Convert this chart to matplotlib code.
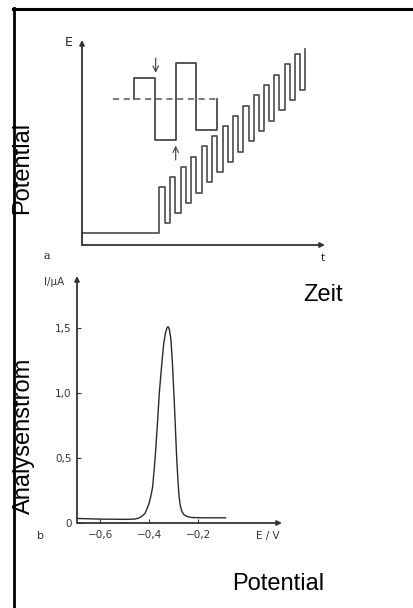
import matplotlib.pyplot as plt
from matplotlib.lines import Line2D

W, H = 413, 608

# a: staircase potential with superimposed square-wave pulses
base_level = 12
rise_t = [77, 88, 98.5, 108.5, 119.5, 130, 140.5, 150.5, 161, 171.5, 182, 192, 202.5, 212.5, 222.5]
fall_t = [83, 93, 103.5, 114, 124.5, 135, 145.5, 156, 166.5, 176.5, 187, 197, 207.5, 217.5]
tops = [58, 68, 78.5, 88.5, 99, 109.5, 119.5, 129.5, 139.5, 150, 160, 170.5, 181, 191, 196]
bottoms = [22, 32, 42, 52.5, 63, 73.5, 83.5, 93.5, 104, 114.5, 124.5, 135, 145, 155]

# enlarged single pulse pair
pulse_t = [52, 73, 93.7, 114, 135.3]
pulse_E = [145.7, 166.7, 104.7, 181.7, 115, 145.7]
dash_t = [31.3, 134.7]

# b: square-wave voltammogram
E_pot = [-0.694, -0.60, -0.50, -0.46, -0.445, -0.435, -0.425, -0.416, -0.408, -0.40,
         -0.392, -0.385, -0.375, -0.366, -0.358, -0.348, -0.340, -0.333, -0.327, -0.322,
         -0.317, -0.311, -0.305, -0.298, -0.292, -0.287, -0.281, -0.277, -0.272, -0.266,
         -0.258, -0.245, -0.225, -0.18, -0.13, -0.088]
I_cur = [0.035, 0.030, 0.028, 0.030, 0.036, 0.045, 0.058, 0.075, 0.11, 0.15,
         0.21, 0.28, 0.50, 0.75, 1.00, 1.22, 1.38, 1.46, 1.50, 1.51,
         1.49, 1.42, 1.25, 0.98, 0.72, 0.50, 0.30, 0.20, 0.13, 0.09,
         0.065, 0.050, 0.042, 0.040, 0.040, 0.040]
x_ticks = [-0.6, -0.4, -0.2]
x_labels = ['\u22120,6', '\u22120,4', '\u22120,2']
y_ticks = [0, 0.5, 1.0, 1.5]
y_labels = ['0', '0,5', '1,0', '1,5']


def box(left, top, right, bottom):
    return [left / W, 1 - bottom / H, (right - left) / W, (bottom - top) / H]


def fx(x):
    return x / W


def fy(y):
    return 1 - y / H


fig = plt.figure(figsize=(W / 100, H / 100), dpi=100)

axc = '#333333'
lc = '#3a3a3a'

# ---- panel a ----
ax1 = fig.add_axes(box(82, 35, 332, 245))
ax1.set_xlim(0, 250)
ax1.set_ylim(0, 210)
ax1.axis('off')

st_x = [0, rise_t[0]]
st_y = [base_level, base_level]
for i in range(len(fall_t)):
    st_x += [rise_t[i], fall_t[i], fall_t[i]]
    st_y += [tops[i], tops[i], bottoms[i]]
    st_x.append(rise_t[i + 1])
    st_y.append(bottoms[i])
st_x.append(rise_t[-1])
st_y.append(tops[-1])
ax1.plot(st_x, st_y, color='#4a4a4a', lw=1.2, clip_on=False)

px, py = [pulse_t[0]], [pulse_E[0]]
for i, t in enumerate(pulse_t):
    if i > 0:
        px.append(t)
        py.append(pulse_E[i])
    px.append(t)
    py.append(pulse_E[i + 1])
    if i + 1 < len(pulse_t):
        px.append(pulse_t[i + 1])
        py.append(pulse_E[i + 1])
ax1.plot(px, py, color=lc, lw=1.2)
ax1.plot(dash_t, [pulse_E[0], pulse_E[0]], color='#555555', lw=1.1, ls=(0, (4, 3)))

ax1.annotate('', xy=(73.7, 172.3), xytext=(73.7, 187),
             arrowprops=dict(arrowstyle='->', color=lc, lw=0.8, mutation_scale=10,
                             shrinkA=0, shrinkB=0))
ax1.annotate('', xy=(93.7, 99.3), xytext=(93.7, 85),
             arrowprops=dict(arrowstyle='->', color=lc, lw=0.8, mutation_scale=10,
                             shrinkA=0, shrinkB=0))

# axes with arrow heads
ax1.annotate('', xy=(0, 205), xytext=(0, 0),
             arrowprops=dict(arrowstyle='-|>', color=axc, lw=1.3, mutation_scale=7,
                             shrinkA=0, shrinkB=0))
ax1.annotate('', xy=(243, 0), xytext=(0, 0),
             arrowprops=dict(arrowstyle='-|>', color=axc, lw=1.3, mutation_scale=7,
                             shrinkA=0, shrinkB=0))
ax1.text(-13, 202, 'E', fontsize=9, color='#222222', ha='center', va='center')
ax1.text(241, -13, 't', fontsize=7.5, color='#222222', ha='center', va='center')

# ---- panel b ----
ax2 = fig.add_axes(box(77, 270, 290, 523))
ax2.set_xlim(-0.6939, -0.6939 + 213 / 245)
ax2.set_ylim(0, 253 / 130)
for s in ax2.spines.values():
    s.set_visible(False)
ax2.plot(E_pot, I_cur, color='#2a2a2a', lw=1.0)
ax2.set_xticks(x_ticks)
ax2.set_xticklabels(x_labels)
ax2.set_yticks(y_ticks)
ax2.set_yticklabels(y_labels)
ax2.tick_params(direction='in', length=3, width=0.8, color=axc, labelcolor='#333333',
                labelsize=7.5)
ax2.tick_params(axis='x', pad=5)
ax2.tick_params(axis='y', pad=4)
x0 = -0.6939
ax2.annotate('', xy=(0.1429, 0), xytext=(x0, 0),
             arrowprops=dict(arrowstyle='-|>', color=axc, lw=1.3, mutation_scale=7,
                             shrinkA=0, shrinkB=0), annotation_clip=False)
ax2.annotate('', xy=(x0, 247 / 130), xytext=(x0, 0),
             arrowprops=dict(arrowstyle='-|>', color=axc, lw=1.3, mutation_scale=7,
                             shrinkA=0, shrinkB=0), annotation_clip=False)

fig.text(fx(54), fy(282), 'I/\u03bcA', fontsize=7.5, color='#333333', ha='center', va='center')
fig.text(fx(268), fy(536), 'E / V', fontsize=7.5, color='#333333', ha='center', va='center')
fig.text(fx(47), fy(256), 'a', fontsize=8, color='#222222', ha='center', va='center',
         family='DejaVu Serif')
fig.text(fx(41), fy(536), 'b', fontsize=8, color='#333333', ha='center', va='center')

# big captions
big = dict(fontsize=17, family='Liberation Sans', color='black')
fig.text(fx(22), fy(167.5), 'Potential', rotation=90, ha='center', va='center', **big)
fig.text(fx(24), fy(435.5), 'Analysenstrom', rotation=90, ha='center', va='center', **big)
fig.text(fx(323.5), fy(295), 'Zeit', ha='center', va='center', **big)
fig.text(fx(278.5), fy(583.5), 'Potential', ha='center', va='center', **big)

# frame lines
fig.add_artist(Line2D([fx(13), 1], [fy(9.3), fy(9.3)], color='black', lw=2.2,
                      transform=fig.transFigure))
fig.add_artist(Line2D([fx(14), fx(14)], [fy(8), 0], color='black', lw=2.0,
                      transform=fig.transFigure))

fig.savefig('out.png', dpi=100)
